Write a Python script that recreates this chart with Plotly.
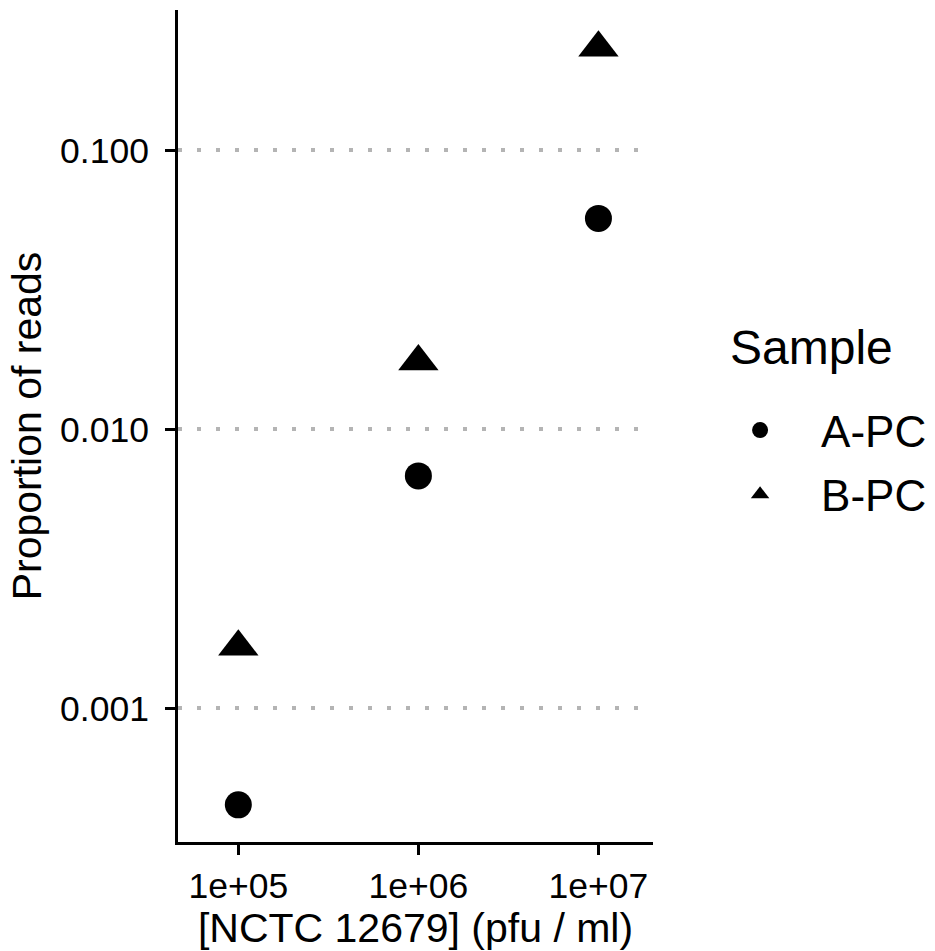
import plotly.graph_objects as go

concentration = [1e5, 1e6, 1e7]
a_pc = [0.00045, 0.0068, 0.057]
b_pc = [0.00166, 0.0175, 0.233]
y_ticks = [0.001, 0.01, 0.1]
y_tick_labels = ["0.001", "0.010", "0.100"]
x_ticks = [1e5, 1e6, 1e7]
x_tick_labels = ["1e+05", "1e+06", "1e+07"]

FONT = "Liberation Sans, Arial, sans-serif"

fig = go.Figure()
fig.add_trace(go.Scatter(x=concentration, y=a_pc, mode="markers", name="A-PC",
                         legendgroup="a",
                         marker=dict(symbol="circle", size=27, color="black")))
fig.add_trace(go.Scatter(x=concentration, y=b_pc, mode="markers", name="B-PC",
                         legendgroup="b",
                         marker=dict(symbol="triangle-up", size=35, color="black")))

fig.update_layout(
    width=935, height=951,
    margin=dict(l=178, r=282, t=10, b=109, autoexpand=False),
    paper_bgcolor="white", plot_bgcolor="white",
    font=dict(family=FONT, color="black"),
    legend=dict(
        font=dict(size=44, family=FONT, color="black"),
        x=1.097, xanchor="left", y=0.4561, yanchor="middle",
        itemwidth=112, tracegroupgap=4, bgcolor="rgba(0,0,0,0)",
    ),
    showlegend=True,
    annotations=[dict(text="Sample", xref="paper", yref="paper", x=1.158, y=0.5938,
                      xanchor="left", yanchor="middle", showarrow=False,
                      font=dict(size=48, family=FONT, color="black"))],
)
fig.update_xaxes(
    type="log", range=[4.665, 7.303],
    tickvals=x_ticks, ticktext=x_tick_labels,
    tickfont=dict(size=35.5, family=FONT, color="black"),
    ticks="outside", ticklen=10, tickwidth=3, tickcolor="black",
    ticklabelstandoff=0,
    showline=True, linewidth=3, linecolor="black",
    showgrid=False, zeroline=False,
    title=dict(text="[NCTC 12679] (pfu / ml)", font=dict(size=41, family=FONT, color="black"), standoff=11),
)
fig.update_yaxes(
    type="log", range=[-3.48, -0.497],
    tickvals=y_ticks, ticktext=y_tick_labels,
    tickfont=dict(size=35.5, family=FONT, color="black"),
    ticks="outside", ticklen=10, tickwidth=3, tickcolor="black",
    ticklabelstandoff=9,
    showline=True, linewidth=3, linecolor="black",
    showgrid=True, gridcolor="#b4b4b4", gridwidth=3.5, griddash="4px,15px",
    zeroline=False,
    title=dict(text="Proportion of reads", font=dict(size=41, family=FONT, color="black"), standoff=6),
)

fig.write_html("out.html")
